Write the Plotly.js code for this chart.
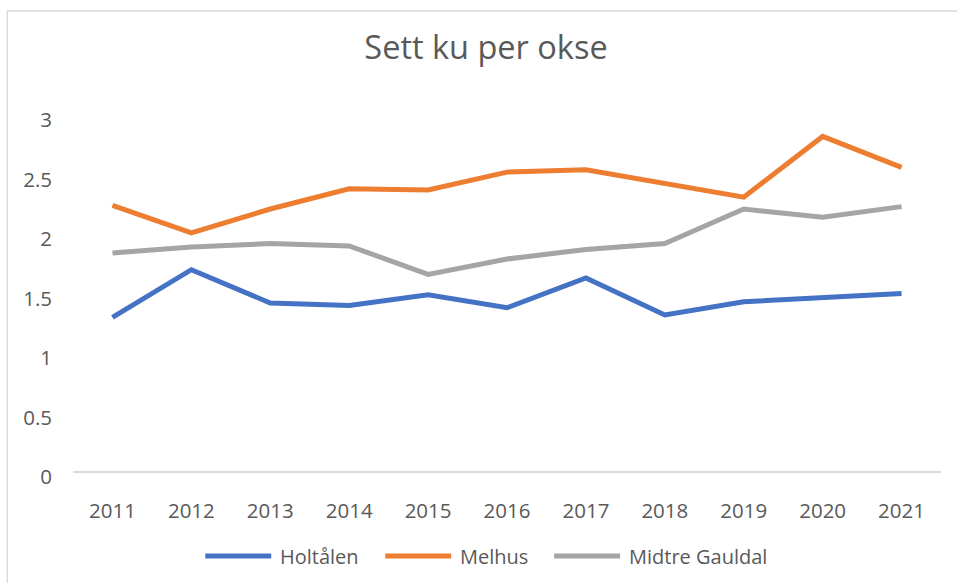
<!DOCTYPE html>
<html>
<head>
<meta charset="utf-8">
<script src="https://cdn.plot.ly/plotly-3.0.1.min.js"></script>
<style>
  html, body { margin: 0; padding: 0; background: #fff; }
  #chart { width: 957px; height: 583px; }
</style>
</head>
<body>
<div id="chart"></div>
<script>
const years = ['2011','2012','2013','2014','2015','2016','2017','2018','2019','2020','2021'];
const holtalen = [1.30, 1.70, 1.42, 1.40, 1.49, 1.38, 1.63, 1.32, 1.43, 1.47, 1.50];
const melhus = [2.24, 2.01, 2.21, 2.38, 2.37, 2.52, 2.54, 2.43, 2.31, 2.82, 2.56];
const midtreGauldal = [1.84, 1.89, 1.92, 1.90, 1.66, 1.79, 1.87, 1.92, 2.21, 2.14, 2.23];
const seriesNames = ['Holtålen', 'Melhus', 'Midtre Gauldal'];
const seriesColors = ['#4472C4', '#ED7D31', '#A5A5A5'];
const yTicks = [0, 0.5, 1, 1.5, 2, 2.5, 3];
const yTickText = ['0', '0.5', '1', '1.5', '2', '2.5', '3'];
const titleText = 'Sett ku per okse';

const seriesValues = [holtalen, melhus, midtreGauldal];
const FONT = 'Open Sans, sans-serif';
const TXT = '#595959';

const W = 957, H = 583;
const L = 72.7, R = 16, T = 115, B = 111;
const pw = W - L - R, ph = H - T - B;
const px2x = p => (p - L) / pw;
const py2y = p => (H - B - p) / ph;

const traces = seriesValues.map((vals, i) => ({
  type: 'scatter',
  mode: 'lines',
  x: years,
  y: vals,
  name: seriesNames[i],
  line: { color: seriesColors[i], width: 5 },
  showlegend: false,
  hoverinfo: 'x+y+name'
}));

// custom legend (Excel style long line samples)
const legendLineStart = [205, 385, 554];
const legendLineLen = 66;
const legendY = 556;
const shapes = [{
  type: 'rect', xref: 'paper', yref: 'paper', layer: 'below',
  x0: px2x(7), x1: px2x(1100), y0: py2y(700), y1: py2y(11),
  line: { color: '#D9D9D9', width: 1.3 }, fillcolor: 'rgba(0,0,0,0)'
}];
const annotations = [];
seriesNames.forEach((n, i) => {
  shapes.push({
    type: 'line', xref: 'paper', yref: 'paper',
    x0: px2x(legendLineStart[i]), x1: px2x(legendLineStart[i] + legendLineLen),
    y0: py2y(legendY), y1: py2y(legendY),
    line: { color: seriesColors[i], width: 5 }
  });
  annotations.push({
    xref: 'paper', yref: 'paper', showarrow: false,
    x: px2x(legendLineStart[i] + legendLineLen + 7), y: py2y(legendY),
    xanchor: 'left', yanchor: 'middle',
    text: n, font: { family: FONT, size: 20, color: TXT }
  });
});

const layout = {
  width: W, height: H,
  margin: { l: L, r: R, t: T, b: B, pad: 0 },
  paper_bgcolor: '#fff', plot_bgcolor: '#fff',
  title: {
    text: titleText,
    font: { family: FONT, size: 32.5, color: TXT },
    x: 486 / W, xref: 'container', xanchor: 'center',
    y: 1 - 48 / H, yref: 'container', yanchor: 'middle'
  },
  xaxis: {
    type: 'category',
    range: [-0.5, years.length - 0.5],
    showgrid: false, zeroline: false, showline: false,
    ticks: '',
    tickfont: { family: FONT, size: 20.5, color: TXT },
    ticklabelstandoff: 24
  },
  yaxis: {
    range: [0, 3],
    tickvals: yTicks, ticktext: yTickText,
    showgrid: false, zeroline: true, zerolinecolor: '#D9D9D9', zerolinewidth: 1.5,
    showline: false, ticks: '',
    tickfont: { family: FONT, size: 20.5, color: TXT },
    ticklabelstandoff: 20,
    ticklabelshift: 5
  },
  shapes: shapes,
  annotations: annotations,
  showlegend: false
};

Plotly.newPlot('chart', traces, layout, { displayModeBar: false, staticPlot: false });
</script>
</body>
</html>
